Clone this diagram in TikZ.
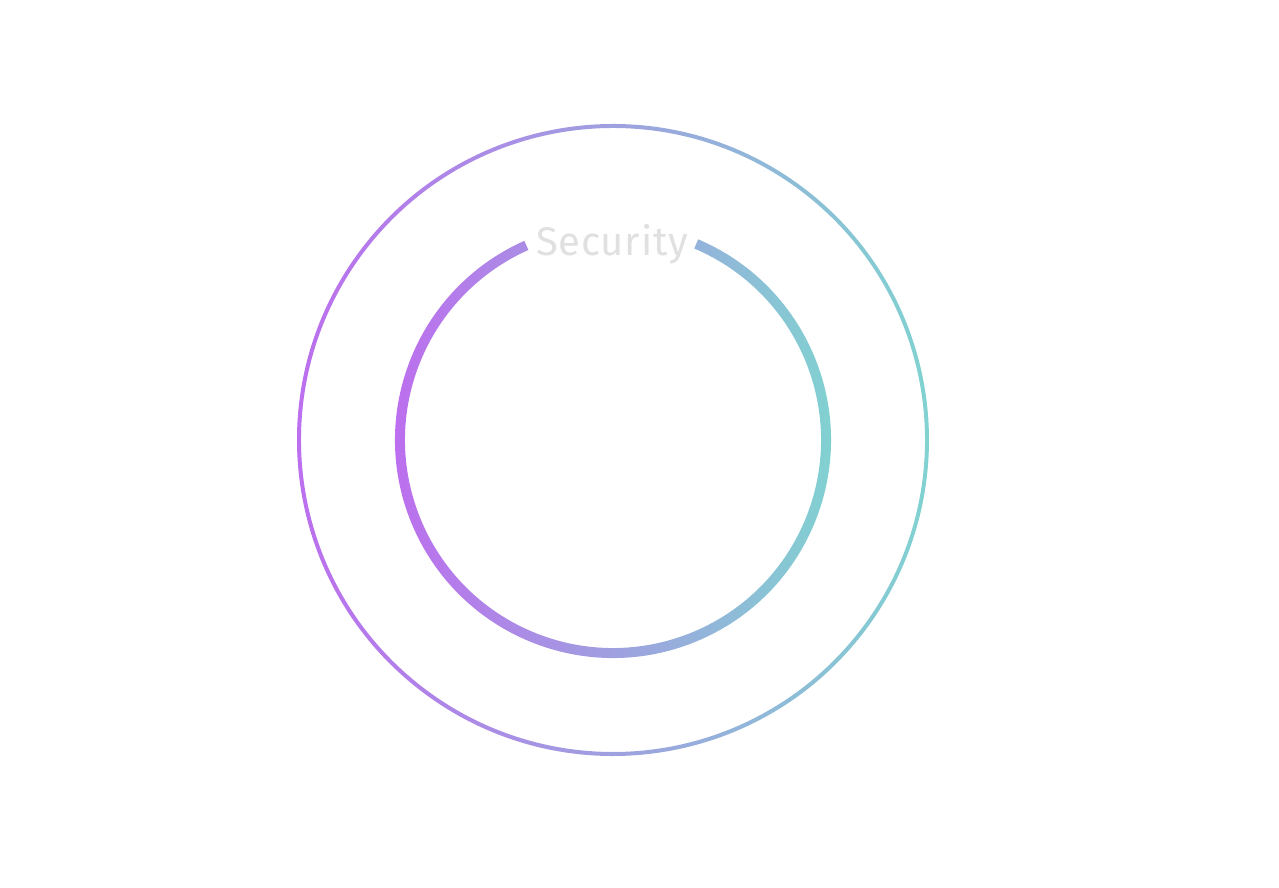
\documentclass[tikz,border=0pt]{standalone}
\usepackage{fontspec}
\setmainfont{Fira Sans}
\usetikzlibrary{calc}
\begin{document}
\begin{tikzpicture}[x=1pt,y=1pt]
\definecolor{ringL}{HTML}{C068F0}
\definecolor{ringR}{HTML}{7DD8CF}
\useasboundingbox (0,0) rectangle (1279,887);
\coordinate (c) at (613,447);
% outer ring
\shade[left color=ringL,right color=ringR]
  ($(c)+(-36.5:316)$) arc[start angle=-36.5,end angle=-398,radius=316]
  -- ($(c)+(-398:312)$) arc[start angle=-398,end angle=-36.5,radius=312] -- cycle;
% inner ring
\shade[left color=ringL,right color=ringR]
  ($(c)+(114:218)$) arc[start angle=114,end angle=427,radius=218]
  -- ($(c)+(427:208)$) arc[start angle=427,end angle=114,radius=208] -- cycle;
\node[text=black!12,font=\fontsize{40}{40}\selectfont\addfontfeature{LetterSpace=2}] (t) at (612,643) {Security};
\end{tikzpicture}
\end{document}
